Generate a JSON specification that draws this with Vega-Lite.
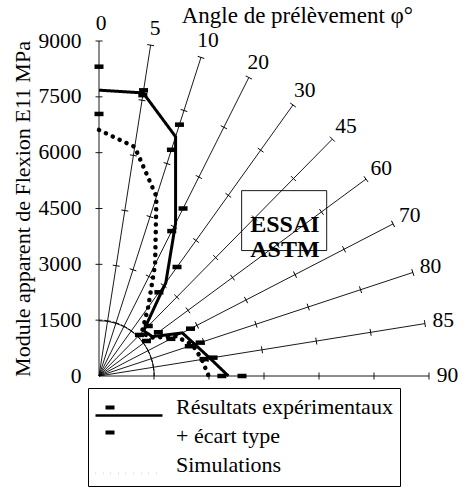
{
  "$schema": "https://vega.github.io/schema/vega-lite/v6.json",
  "width": 330,
  "height": 335,
  "autosize": {"type": "none"},
  "padding": {"left": 99, "top": 41, "right": 40, "bottom": 115},
  "background": "white",
  "config": {"view": {"stroke": null}, "font": "Liberation Serif", "axis": {"grid": false}},
  "title": {"text": "Angle de prélèvement φ°", "frame": "group", "anchor": "end", "dx": -16, "offset": -15, "fontSize": 23, "fontWeight": "normal", "font": "Liberation Serif", "color": "black"},
  "datasets": {
    "angles": [
      {"phi": 0, "r": [0, 1500, 3000, 4500, 6000, 7500, 9000]},
      {"phi": 5, "r": [0, 1500, 3000, 4500, 6000, 7500, 9000]},
      {"phi": 10, "r": [0, 1500, 3000, 4500, 6000, 7500, 9000]},
      {"phi": 20, "r": [0, 1500, 3000, 4500, 6000, 7500, 9000]},
      {"phi": 30, "r": [0, 1500, 3000, 4500, 6000, 7500, 9000]},
      {"phi": 45, "r": [0, 1500, 3000, 4500, 6000, 7500, 9000]},
      {"phi": 60, "r": [0, 1500, 3000, 4500, 6000, 7500, 9000]},
      {"phi": 70, "r": [0, 1500, 3000, 4500, 6000, 7500, 9000]},
      {"phi": 80, "r": [0, 1500, 3000, 4500, 6000, 7500, 9000]},
      {"phi": 85, "r": [0, 1500, 3000, 4500, 6000, 7500, 9000]},
      {"phi": 90, "r": [0, 1500, 3000, 4500, 6000, 7500, 9000]}
    ],
    "exp": [
      {"phi": 0, "mean": 7680, "low": 7040, "high": 8310},
      {"phi": 5, "mean": 7700, "low": 7640, "high": 7770},
      {"phi": 10, "mean": 6760, "low": 6390, "high": 7100},
      {"phi": 20, "mean": 4600, "low": 4370, "high": 5050},
      {"phi": 30, "mean": 3100, "low": 2780, "high": 3620},
      {"phi": 45, "mean": 1720, "low": 1560, "high": 1900},
      {"phi": 60, "mean": 1800, "low": 1600, "high": 2000},
      {"phi": 70, "mean": 2550, "low": 2200, "high": 2800},
      {"phi": 80, "mean": 2750, "low": 2590, "high": 2900},
      {"phi": 85, "mean": 3060, "low": 2900, "high": 3150},
      {"phi": 90, "mean": 3530, "low": 3350, "high": 3900}
    ],
    "sim": [
      {"phi": 0, "E": 6610},
      {"phi": 5, "E": 6230},
      {"phi": 10, "E": 5070},
      {"phi": 20, "E": 3370},
      {"phi": 30, "E": 2280},
      {"phi": 45, "E": 1650},
      {"phi": 60, "E": 1750},
      {"phi": 70, "E": 2350},
      {"phi": 80, "E": 2690},
      {"phi": 85, "E": 2840},
      {"phi": 90, "E": 2990}
    ]
  },
  "layer": [
    {
      "data": {"name": "angles"},
      "transform": [
        {"flatten": ["r"]},
        {"calculate": "indexof([0,5,10,20,30,45,60,70,80,85,90], datum.phi) * 9", "as": "ang"},
        {"calculate": "datum.r * sin(datum.ang * PI / 180)", "as": "x"},
        {"calculate": "datum.r * cos(datum.ang * PI / 180)", "as": "y"}
      ],
      "mark": {"type": "line", "color": "black", "strokeWidth": 0.9},
      "encoding": {
        "x": {"field": "x", "type": "quantitative", "scale": {"domain": [0, 9000], "nice": false, "zero": true}, "axis": null},
        "y": {"field": "y", "type": "quantitative", "scale": {"domain": [0, 9000], "nice": false, "zero": true},
          "axis": {"values": [0, 1500, 3000, 4500, 6000, 7500, 9000], "format": "d", "ticks": false, "domain": false, "grid": false, "labelFontSize": 21.5, "labelFont": "Liberation Serif", "labelColor": "black", "labelPadding": 18, "labelFlush": false, "labelOverlap": false, "title": "Module apparent de Flexion E11 MPa", "titleFontSize": 22, "titleFont": "Liberation Serif", "titleFontWeight": "normal", "titleColor": "black", "titlePadding": 4}},
        "detail": {"field": "phi", "type": "nominal"},
        "order": {"field": "r", "type": "quantitative"}
      }
    },
    {
      "data": {"name": "angles"},
      "transform": [
        {"flatten": ["r"]},
        {"filter": "datum.r > 0"},
        {"calculate": "indexof([0,5,10,20,30,45,60,70,80,85,90], datum.phi) * 9", "as": "ang"},
        {"calculate": "datum.r * sin(datum.ang * PI / 180)", "as": "x"},
        {"calculate": "datum.r * cos(datum.ang * PI / 180)", "as": "y"}
      ],
      "mark": {"type": "point", "shape": "stroke", "filled": false, "color": "black", "strokeWidth": 0.9, "size": 49, "opacity": 1},
      "encoding": {
        "x": {"field": "x", "type": "quantitative", "axis": null},
        "y": {"field": "y", "type": "quantitative"},
        "angle": {"field": "ang", "type": "quantitative", "scale": null}
      }
    },
    {
      "data": {"name": "angles"},
      "transform": [
        {"flatten": ["r"]},
        {"filter": "datum.phi == 0 && datum.r == 0"}
      ],
      "mark": {"type": "point", "shape": "M0,-1A1,1 0 0,1 1,0", "filled": false, "color": "black", "strokeWidth": 0.9, "size": 12200, "opacity": 1},
      "encoding": {
        "x": {"field": "r", "type": "quantitative", "axis": null},
        "y": {"field": "r", "type": "quantitative"}
      }
    },
    {
      "data": {"values": [{}]},
      "mark": {"type": "rect", "fillOpacity": 0, "stroke": "black", "strokeWidth": 0.9},
      "encoding": {
        "x": {"datum": 3890, "type": "quantitative", "axis": null},
        "x2": {"datum": 6210},
        "y": {"datum": 4980, "type": "quantitative"},
        "y2": {"datum": 3370}
      }
    },
    {
      "data": {"values": [{}]},
      "mark": {"type": "text", "text": ["ESSAI", "ASTM"], "font": "Liberation Serif", "fontWeight": "bold", "fontSize": 24, "lineHeight": 25, "align": "center", "baseline": "middle", "color": "black"},
      "encoding": {
        "x": {"datum": 5070, "type": "quantitative", "axis": null},
        "y": {"datum": 4050, "type": "quantitative"}
      }
    },
    {
      "data": {"name": "sim"},
      "transform": [
        {"calculate": "indexof([0,5,10,20,30,45,60,70,80,85,90], datum.phi) * 9", "as": "ang"},
        {"calculate": "datum.E * sin(datum.ang * PI / 180)", "as": "x"},
        {"calculate": "datum.E * cos(datum.ang * PI / 180)", "as": "y"}
      ],
      "mark": {"type": "line", "color": "black", "strokeWidth": 4.5, "strokeCap": "round"},
      "encoding": {
        "x": {"field": "x", "type": "quantitative", "axis": null},
        "y": {"field": "y", "type": "quantitative"},
        "order": {"field": "ang", "type": "quantitative"},
        "strokeDash": {"datum": "Simulations", "type": "nominal"}
      }
    },
    {
      "data": {"name": "exp"},
      "transform": [
        {"calculate": "indexof([0,5,10,20,30,45,60,70,80,85,90], datum.phi) * 9", "as": "ang"},
        {"calculate": "datum.mean * sin(datum.ang * PI / 180)", "as": "x"},
        {"calculate": "datum.mean * cos(datum.ang * PI / 180)", "as": "y"}
      ],
      "mark": {"type": "line", "color": "black", "strokeWidth": 3, "strokeJoin": "miter"},
      "encoding": {
        "x": {"field": "x", "type": "quantitative", "axis": null},
        "y": {"field": "y", "type": "quantitative"},
        "order": {"field": "ang", "type": "quantitative"},
        "strokeDash": {"datum": "Résultats expérimentaux", "type": "nominal",
          "scale": {"domain": ["Résultats expérimentaux", "+ écart type", "Simulations"], "range": [[1, 0], [0, 200], [0.1, 7.5]]},
          "legend": {
            "title": null, "orient": "none", "legendX": -11, "legendY": 347,
            "strokeColor": "black", "padding": 7,
            "symbolType": "M-1.1,0.9H5.6", "symbolSize": 400, "symbolStrokeColor": "black", "symbolStrokeWidth": 2.5,
            "labelFont": "Liberation Serif", "labelFontSize": 22, "labelColor": "black", "labelOffset": 58, "labelLimit": 400,
            "rowPadding": 3
          }}
      }
    },
    {
      "data": {"name": "exp"},
      "transform": [
        {"fold": ["low", "high"], "as": ["bound", "E"]},
        {"calculate": "indexof([0,5,10,20,30,45,60,70,80,85,90], datum.phi) * 9", "as": "ang"},
        {"calculate": "datum.E * sin(datum.ang * PI / 180)", "as": "x"},
        {"calculate": "datum.E * cos(datum.ang * PI / 180)", "as": "y"}
      ],
      "mark": {"type": "point", "shape": "M-1,-0.5H1V0.5H-1Z", "filled": true, "color": "black", "size": 81},
      "encoding": {
        "x": {"field": "x", "type": "quantitative", "axis": null},
        "y": {"field": "y", "type": "quantitative"},
        "opacity": {"datum": "écart type", "type": "nominal",
          "scale": {"domain": ["écart type"], "range": [1]},
          "legend": {
            "title": null, "orient": "none", "legendX": 1, "legendY": 369, "padding": 0,
            "symbolType": "M-0.45,-1.45H0.45V-1.05H-0.45Z M-0.45,1.05H0.45V1.45H-0.45Z", "symbolSize": 400,
            "symbolFillColor": "black", "symbolStrokeWidth": 0, "symbolOpacity": 1,
            "labelExpr": "''", "labelFontSize": 1
          }}
      }
    },
    {
      "data": {"name": "angles"},
      "transform": [
        {"calculate": "indexof([0,5,10,20,30,45,60,70,80,85,90], datum.phi) * 9", "as": "ang"},
        {"calculate": "9450 * sin(datum.ang * PI / 180)", "as": "x"},
        {"calculate": "9450 * cos(datum.ang * PI / 180)", "as": "y"}
      ],
      "mark": {"type": "text", "font": "Liberation Serif", "fontSize": 21.5, "color": "black", "align": "center", "baseline": "middle", "dx": 2},
      "encoding": {
        "x": {"field": "x", "type": "quantitative", "axis": null},
        "y": {"field": "y", "type": "quantitative"},
        "text": {"field": "phi", "type": "nominal"}
      }
    }
  ]
}
